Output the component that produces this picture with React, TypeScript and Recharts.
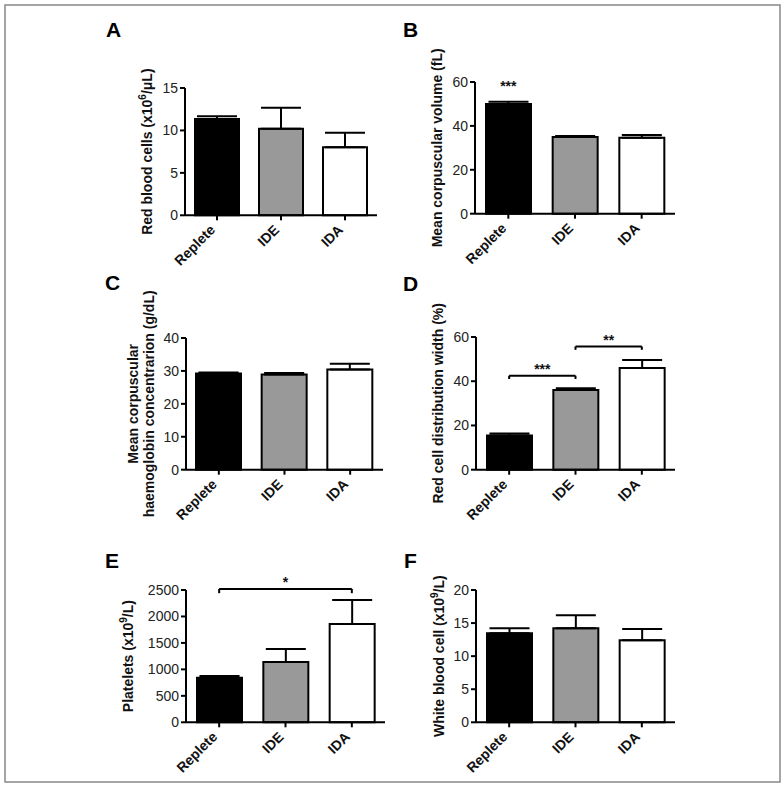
import React from "react";
import {
  BarChart,
  Bar,
  XAxis,
  YAxis,
  Cell,
  ErrorBar,
  ReferenceLine,
} from "recharts";

// groups
const groups = ["Replete", "IDE", "IDA"];
const groupFills = ["#000000", "#999999", "#ffffff"];

// A - red blood cells
const rbcMean = [11.34, 10.2, 8.03];
const rbcSem = [0.32, 2.47, 1.69];
const rbcTicks = [0, 5, 10, 15];

// B - mean corpuscular volume
const mcvMean = [50, 34.9, 34.6];
const mcvSem = [1.0, 0.5, 1.2];
const mcvTicks = [0, 20, 40, 60];

// C - mean corpuscular haemoglobin concentration
const mchcMean = [29.25, 28.9, 30.4];
const mchcSem = [0.25, 0.5, 1.8];
const mchcTicks = [0, 10, 20, 30, 40];

// D - red cell distribution width
const rdwMean = [15.5, 36.0, 46.0];
const rdwSem = [0.9, 0.8, 3.6];
const rdwTicks = [0, 20, 40, 60];

// E - platelets
const pltMean = [843, 1139, 1857];
const pltSem = [32, 246, 454];
const pltTicks = [0, 500, 1000, 1500, 2000, 2500];

// F - white blood cell
const wbcMean = [13.45, 14.2, 12.4];
const wbcSem = [0.75, 2.0, 1.7];
const wbcTicks = [0, 5, 10, 15, 20];

const FONT = "'Liberation Sans', Arial, sans-serif";

const XTick = ({ x, y, payload }: any) => {
  const tx = x - 1;
  const ty = y + 8.5;
  return (
    <text
      x={tx}
      y={ty}
      transform={`rotate(-45, ${tx}, ${ty})`}
      textAnchor="end"
      fontSize={14}
      fontWeight="bold"
      fill="#111"
    >
      {payload.value}
    </text>
  );
};

const YTitle = ({ viewBox, lines, dists }: any) => {
  const axisX = viewBox.x + viewBox.width;
  const cy = viewBox.y + viewBox.height / 2;
  return (
    <g>
      {lines.map((ln: React.ReactNode, i: number) => {
        const cx = axisX - dists[i];
        return (
          <text
            key={i}
            x={cx}
            y={cy}
            transform={`rotate(-90, ${cx}, ${cy})`}
            textAnchor="middle"
            dominantBaseline="central"
            fontSize={14}
            fontWeight="bold"
            fill="#111"
          >
            {ln}
          </text>
        );
      })}
    </g>
  );
};

const starLabel = (value: string, offset = 2) => ({
  value,
  position: "top" as const,
  offset,
  fontSize: 14,
  fontWeight: "bold",
  fill: "#111",
});

function Bracket(prefix: string, { from, to, y, leg, stars }: any) {
  return [
    <ReferenceLine
      key={prefix + "h"}
      segment={[
        { x: from, y },
        { x: to, y },
      ]}
      stroke="#000"
      strokeWidth={2}
      ifOverflow="visible"
      label={starLabel(stars)}
    />,
    <ReferenceLine
      key={prefix + "l"}
      segment={[
        { x: from, y },
        { x: from, y: y - leg },
      ]}
      stroke="#000"
      strokeWidth={2}
      ifOverflow="visible"
    />,
    <ReferenceLine
      key={prefix + "r"}
      segment={[
        { x: to, y },
        { x: to, y: y - leg },
      ]}
      stroke="#000"
      strokeWidth={2}
      ifOverflow="visible"
    />,
  ];
}

const ML = 110;
const MT = 50;
const XH = 70;

function Panel({ box, mean, sem, ticks, lines, dists, barSize, extras }: any) {
  const data = groups.map((g, i) => ({ name: g, mean: mean[i], err: [0, sem[i]] }));
  return (
    <div style={{ position: "absolute", left: box.x - ML, top: box.y - MT }}>
      <BarChart
        width={ML + box.w + 20}
        height={MT + box.h + XH}
        data={data}
        margin={{ top: MT, right: 20, bottom: 0, left: 0 }}
        barSize={barSize}
      >
        <XAxis
          dataKey="name"
          height={XH}
          interval={0}
          axisLine={{ stroke: "#000", strokeWidth: 2 }}
          tickLine={{ stroke: "#000", strokeWidth: 2 }}
          tickSize={5}
          tickMargin={2}
          tick={<XTick />}
        />
        <YAxis
          width={ML}
          domain={[ticks[0], ticks[ticks.length - 1]]}
          ticks={ticks}
          interval={0}
          axisLine={{ stroke: "#000", strokeWidth: 2 }}
          tickLine={{ stroke: "#000", strokeWidth: 2 }}
          tickSize={5}
          tickMargin={2}
          tick={{ fill: "#222", fontSize: 14, fontFamily: FONT }}
          label={<YTitle lines={lines} dists={dists} />}
        />
        <Bar dataKey="mean" stroke="#000" strokeWidth={2} isAnimationActive={false}>
          {groups.map((g, i) => (
            <Cell key={g} fill={groupFills[i]} />
          ))}
          <ErrorBar
            dataKey="err"
            width={20}
            stroke="#000"
            strokeWidth={2}
            isAnimationActive={false}
          />
        </Bar>
        {extras}
      </BarChart>
    </div>
  );
}

const sup = (base: string, exp: string, rest: string) => (
  <>
    {base}
    <tspan dy={-5} fontSize={10}>
      {exp}
    </tspan>
    <tspan dy={5}>{rest}</tspan>
  </>
);

export default function App() {
  return (
    <div
      style={{
        position: "absolute",
        left: 0,
        top: 0,
        width: 783,
        height: 786,
        background: "#fff",
        fontFamily: FONT,
      }}
    >
      <svg width={783} height={786} style={{ position: "absolute", left: 0, top: 0 }}>
        <rect x={5} y={5} width={775} height={777} fill="none" stroke="#888" strokeWidth={1.5} />
        <g fontSize={21} fontWeight="bold" fill="#000" fontFamily={FONT}>
          <text x={106} y={37}>A</text>
          <text x={403} y={37}>B</text>
          <text x={105} y={290}>C</text>
          <text x={403} y={291}>D</text>
          <text x={105} y={568}>E</text>
          <text x={404} y={568}>F</text>
        </g>
      </svg>

      <Panel
        box={{ x: 185, y: 87.7, w: 192, h: 127.3 }}
        mean={rbcMean}
        sem={rbcSem}
        ticks={rbcTicks}
        barSize={44}
        lines={[sup("Red blood cells (x10", "6", "/μL)")]}
        dists={[38]}
      />
      <Panel
        box={{ x: 475, y: 82.3, w: 200, h: 131.7 }}
        mean={mcvMean}
        sem={mcvSem}
        ticks={mcvTicks}
        barSize={45}
        lines={["Mean corpuscular volume (fL)"]}
        dists={[38]}
        extras={
          <ReferenceLine
            segment={[
              { x: "Replete", y: 55 },
              { x: "Replete", y: 55 },
            ]}
            stroke="none"
            ifOverflow="visible"
            label={starLabel("***")}
          />
        }
      />
      <Panel
        box={{ x: 186, y: 338.3, w: 197, h: 131.7 }}
        mean={mchcMean}
        sem={mchcSem}
        ticks={mchcTicks}
        barSize={45}
        lines={["Mean corpuscular", "haemoglobin concentrarion (g/dL)"]}
        dists={[53.5, 37]}
      />
      <Panel
        box={{ x: 476, y: 337.3, w: 199, h: 132.7 }}
        mean={rdwMean}
        sem={rdwSem}
        ticks={rdwTicks}
        barSize={45}
        lines={["Red cell distribution width (%)"]}
        dists={[38.5]}
        extras={[
          ...Bracket("a", { from: "Replete", to: "IDE", y: 42.5, leg: 1.5, stars: "***" }),
          ...Bracket("b", { from: "IDE", to: "IDA", y: 55.7, leg: 1.5, stars: "**" }),
        ]}
      />
      <Panel
        box={{ x: 186, y: 590, w: 199, h: 132.3 }}
        mean={pltMean}
        sem={pltSem}
        ticks={pltTicks}
        barSize={45}
        lines={[sup("Platelets (x10", "9", "/L)")]}
        dists={[58]}
        extras={Bracket("c", { from: "Replete", to: "IDA", y: 2520, leg: 80, stars: "*" })}
      />
      <Panel
        box={{ x: 476, y: 590, w: 199, h: 132.3 }}
        mean={wbcMean}
        sem={wbcSem}
        ticks={wbcTicks}
        barSize={45}
        lines={[sup("White blood cell (x10", "9", "/L)")]}
        dists={[37]}
      />
    </div>
  );
}
